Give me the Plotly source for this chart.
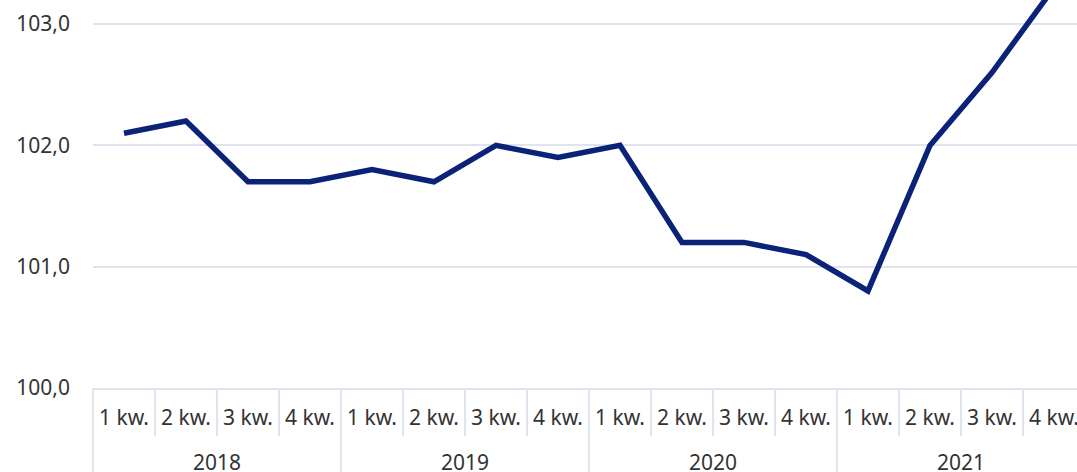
import plotly.graph_objects as go

years = ["2018"] * 4 + ["2019"] * 4 + ["2020"] * 4 + ["2021"] * 4
quarters = ["1 kw.", "2 kw.", "3 kw.", "4 kw."] * 4
values = [102.1, 102.2, 101.7, 101.7,
          101.8, 101.7, 102.0, 101.9,
          102.0, 101.2, 101.2, 101.1,
          100.8, 102.0, 102.6, 103.3]
y_ticks = [100.0, 101.0, 102.0, 103.0]

FONT = "Noto Sans"
GRID = "#dfe3ed"
TXT = "#333333"

# derived positions (category index units)
idx = list(range(len(values)))
cats = [f"{y} {q}" for y, q in zip(years, quarters)]
year_names = list(dict.fromkeys(years))
year_centers = [sum(i for i in idx if years[i] == yn) / years.count(yn) for yn in year_names]
year_bounds = [-0.5] + [i - 0.5 for i in idx[1:] if years[i] != years[i - 1]] + [len(values) - 0.5]
x_range = [-0.5, 15.371]

fig = go.Figure()
fig.add_trace(go.Scatter(
    x=cats, y=values, mode="lines",
    line=dict(color="#0a2277", width=5.5), hoverinfo="skip",
))
# helper trace so the year axis is drawn (invisible)
fig.add_trace(go.Scatter(
    x=idx, y=values, mode="lines", xaxis="x2",
    line=dict(width=0), opacity=0, hoverinfo="skip",
))

fig.update_layout(
    width=1077, height=472,
    margin=dict(l=93, r=0, t=0, b=84),
    paper_bgcolor="white", plot_bgcolor="white",
    separators=", ",
    showlegend=False,
    font=dict(family=FONT, size=21, color=TXT),
    xaxis=dict(
        type="category", range=x_range,
        tickvals=cats, ticktext=quarters,
        tickson="boundaries",
        showgrid=False, showline=True, linecolor=GRID, linewidth=2,
        ticks="outside", ticklen=46, tickcolor=GRID, tickwidth=2,
        ticklabelstandoff=10,
        tickfont=dict(family=FONT, size=21, color=TXT),
        automargin=False, zeroline=False,
    ),
    xaxis2=dict(
        overlaying="x", anchor="y", side="bottom",
        type="linear", range=x_range,
        tickvals=year_centers, ticktext=year_names,
        showgrid=False, showline=False, zeroline=False,
        ticks="", ticklabelstandoff=60,
        minor=dict(tickvals=year_bounds, ticks="outside", ticklen=100,
                   tickcolor=GRID, tickwidth=2, showgrid=False),
        tickfont=dict(family=FONT, size=21, color=TXT),
        automargin=False,
    ),
    yaxis=dict(
        range=[100.0, 103.198], tickvals=y_ticks, tickformat=".1f",
        showgrid=True, gridcolor=GRID, gridwidth=2,
        showline=False, zeroline=False, ticks="",
        ticklabelstandoff=22,
        tickfont=dict(family=FONT, size=21, color=TXT),
        automargin=False,
    ),
)

fig.write_html(
    "out.html",
    config={"displayModeBar": False, "staticPlot": True},
    post_script="document.body.style.margin='0';document.body.style.overflow='hidden';",
)
